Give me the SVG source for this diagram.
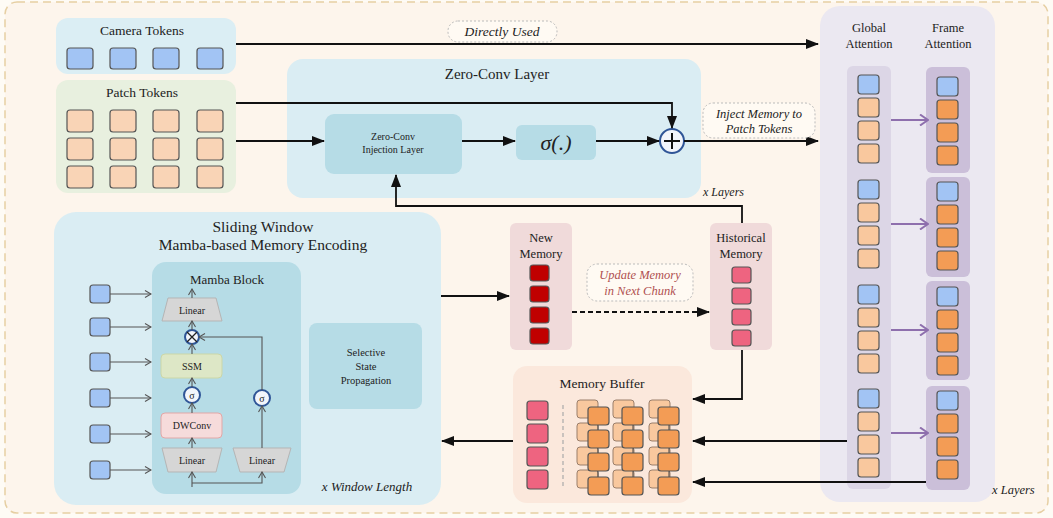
<svg xmlns="http://www.w3.org/2000/svg" width="1053" height="518" viewBox="0 0 1053 518">
<defs>
<style>
text{font-family:"Liberation Serif","Times New Roman",serif;fill:#222;text-anchor:middle}
.it{font-style:italic}
.tk{stroke:#555;stroke-width:1.2}
.blue{fill:#a2c4f4}
.peach{fill:#f9d4b6}
.gpeach{fill:#f9c89e}
.orange{fill:#f39c55}
.dred{fill:#c00000}
.pink{fill:#ee6480}
.ln{fill:none;stroke:#111;stroke-width:1.8}
.gl{fill:none;stroke:#555;stroke-width:1.1}
.pl{fill:none;stroke:#8e6fad;stroke-width:2}
.lbl{fill:#fffaf3;stroke:#bbb;stroke-width:1;stroke-dasharray:2,2}
.trap{fill:#d6d6d6;stroke:#b5b5b5;stroke-width:1}
.circ{fill:#f2f5fb;stroke:#2f5597;stroke-width:2}
</style>
<marker id="ah" markerUnits="userSpaceOnUse" markerWidth="13" markerHeight="10" viewBox="0 0 13 10" refX="12" refY="5" orient="auto"><path d="M0,0 L13,5 L0,10 z" fill="#111"/></marker>
<marker id="oh" markerUnits="userSpaceOnUse" markerWidth="8" markerHeight="8" viewBox="0 0 8 8" refX="7" refY="4" orient="auto"><path d="M1,0.5 L7,4 L1,7.5" fill="none" stroke="#555" stroke-width="1.1"/></marker>
<marker id="ph" markerUnits="userSpaceOnUse" markerWidth="10" markerHeight="12" viewBox="0 0 10 12" refX="9" refY="6" orient="auto"><path d="M1,0.5 L9,6 L1,11.5" fill="none" stroke="#8e6fad" stroke-width="2"/></marker>
</defs>

<rect x="0" y="0" width="1053" height="518" fill="#fefbf5"/>
<rect id="frame" x="5" y="2" width="1043" height="511" rx="12" fill="#fdf5ec" stroke="#e6cfa3" stroke-width="1.5" stroke-dasharray="8,5"/>

<g id="camera-tokens">
<rect x="56" y="18" width="180" height="56" rx="12" fill="#dbeef4"/>
<text x="142" y="35" font-size="13.5">Camera Tokens</text>
<rect class="tk blue" x="67" y="48" width="26" height="21" rx="3"/>
<rect class="tk blue" x="110" y="48" width="26" height="21" rx="3"/>
<rect class="tk blue" x="153" y="48" width="26" height="21" rx="3"/>
<rect class="tk blue" x="197" y="48" width="26" height="21" rx="3"/>
</g>

<g id="patch-tokens">
<rect x="56" y="80" width="180" height="113" rx="12" fill="#e8f0df"/>
<text x="142" y="97" font-size="13.5">Patch Tokens</text>
<rect class="tk peach" x="67" y="110" width="26" height="22" rx="3"/>
<rect class="tk peach" x="110" y="110" width="26" height="22" rx="3"/>
<rect class="tk peach" x="153" y="110" width="26" height="22" rx="3"/>
<rect class="tk peach" x="197" y="110" width="26" height="22" rx="3"/>
<rect class="tk peach" x="67" y="138" width="26" height="22" rx="3"/>
<rect class="tk peach" x="110" y="138" width="26" height="22" rx="3"/>
<rect class="tk peach" x="153" y="138" width="26" height="22" rx="3"/>
<rect class="tk peach" x="197" y="138" width="26" height="22" rx="3"/>
<rect class="tk peach" x="67" y="166" width="26" height="22" rx="3"/>
<rect class="tk peach" x="110" y="166" width="26" height="22" rx="3"/>
<rect class="tk peach" x="153" y="166" width="26" height="22" rx="3"/>
<rect class="tk peach" x="197" y="166" width="26" height="22" rx="3"/>
</g>

<g id="zero-conv-layer">
<rect x="287" y="59" width="414" height="139" rx="16" fill="#daedf3"/>
<text x="497" y="79" font-size="15">Zero-Conv Layer</text>
<text x="703" y="196" font-size="12" class="it" style="text-anchor:start">x Layers</text>
</g>
<g id="zero-conv-injection">
<rect x="325" y="114" width="137" height="60" rx="9" fill="#b6dce6"/>
<text x="393" y="140" font-size="10">Zero-Conv</text>
<text x="393" y="153" font-size="10">Injection Layer</text>
</g>
<g id="sigma">
<rect x="516" y="125" width="80" height="35" rx="6" fill="#b6dce6"/>
<text x="556" y="150" font-size="22" class="it">σ(.)</text>
</g>
<g id="add">
<circle class="circ" cx="672" cy="141" r="12"/>
<path d="M672,133 V149 M664,141 H680" stroke="#111" stroke-width="2"/>
</g>

<g id="attention">
<rect x="820" y="6" width="175" height="496" rx="20" fill="#ebe8f1"/>
<text x="869" y="32" font-size="12.5">Global</text>
<text x="869" y="48" font-size="12.5">Attention</text>
<text x="948" y="32" font-size="12.5">Frame</text>
<text x="948" y="48" font-size="12.5">Attention</text>
<rect x="847" y="66" width="44" height="423" rx="6" fill="#dcd6e6"/>
<rect x="926" y="67" width="44" height="106" rx="6" fill="#cbbfd9"/>
<rect x="926" y="177" width="44" height="100" rx="6" fill="#cbbfd9"/>
<rect x="926" y="281" width="44" height="99" rx="6" fill="#cbbfd9"/>
<rect x="926" y="386" width="44" height="104" rx="6" fill="#cbbfd9"/>
<text x="992" y="494" font-size="12.5" class="it" style="text-anchor:start">x Layers</text>
<rect class="tk blue" x="858" y="75" width="21" height="19" rx="3"/>
<rect class="tk gpeach" x="858" y="98" width="21" height="19" rx="3"/>
<rect class="tk gpeach" x="858" y="121" width="21" height="19" rx="3"/>
<rect class="tk gpeach" x="858" y="144" width="21" height="19" rx="3"/>
<rect class="tk blue" x="858" y="180" width="21" height="19" rx="3"/>
<rect class="tk gpeach" x="858" y="203" width="21" height="19" rx="3"/>
<rect class="tk gpeach" x="858" y="226" width="21" height="19" rx="3"/>
<rect class="tk gpeach" x="858" y="249" width="21" height="19" rx="3"/>
<rect class="tk blue" x="858" y="285" width="21" height="19" rx="3"/>
<rect class="tk gpeach" x="858" y="308" width="21" height="19" rx="3"/>
<rect class="tk gpeach" x="858" y="331" width="21" height="19" rx="3"/>
<rect class="tk gpeach" x="858" y="354" width="21" height="19" rx="3"/>
<rect class="tk blue" x="858" y="389" width="21" height="19" rx="3"/>
<rect class="tk gpeach" x="858" y="412" width="21" height="19" rx="3"/>
<rect class="tk gpeach" x="858" y="435" width="21" height="19" rx="3"/>
<rect class="tk gpeach" x="858" y="458" width="21" height="19" rx="3"/>
<rect class="tk blue" x="937" y="77" width="21" height="19" rx="3"/>
<rect class="tk orange" x="937" y="100" width="21" height="19" rx="3"/>
<rect class="tk orange" x="937" y="123" width="21" height="19" rx="3"/>
<rect class="tk orange" x="937" y="146" width="21" height="19" rx="3"/>
<rect class="tk blue" x="937" y="182" width="21" height="19" rx="3"/>
<rect class="tk orange" x="937" y="205" width="21" height="19" rx="3"/>
<rect class="tk orange" x="937" y="228" width="21" height="19" rx="3"/>
<rect class="tk orange" x="937" y="251" width="21" height="19" rx="3"/>
<rect class="tk blue" x="937" y="287" width="21" height="19" rx="3"/>
<rect class="tk orange" x="937" y="310" width="21" height="19" rx="3"/>
<rect class="tk orange" x="937" y="333" width="21" height="19" rx="3"/>
<rect class="tk orange" x="937" y="356" width="21" height="19" rx="3"/>
<rect class="tk blue" x="937" y="391" width="21" height="19" rx="3"/>
<rect class="tk orange" x="937" y="414" width="21" height="19" rx="3"/>
<rect class="tk orange" x="937" y="437" width="21" height="19" rx="3"/>
<rect class="tk orange" x="937" y="460" width="21" height="19" rx="3"/>
</g>

<g id="sliding-window">
<rect x="54" y="212" width="387" height="293" rx="22" fill="#daedf3"/>
<text x="263" y="232" font-size="15.5">Sliding Window</text>
<text x="263" y="250" font-size="15.5">Mamba-based Memory Encoding</text>
<text x="367" y="491" font-size="13" class="it">x Window Length</text>
<rect class="tk blue" x="90" y="285" width="20" height="18" rx="3"/>
<rect class="tk blue" x="90" y="318" width="20" height="18" rx="3"/>
<rect class="tk blue" x="90" y="353" width="20" height="18" rx="3"/>
<rect class="tk blue" x="90" y="389" width="20" height="18" rx="3"/>
<rect class="tk blue" x="90" y="425" width="20" height="18" rx="3"/>
<rect class="tk blue" x="90" y="461" width="20" height="18" rx="3"/>
</g>

<g id="mamba-block">
<rect x="152" y="262" width="149" height="232" rx="14" fill="#b6dce6"/>
<text x="227" y="284" font-size="13">Mamba Block</text>
<polygon class="trap" points="168,298 216,298 222,321 162,321"/>
<text x="192" y="314" font-size="10">Linear</text>
<circle class="circ" cx="192" cy="337" r="7" stroke-width="1.6"/>
<path d="M187,332 L197,342 M197,332 L187,342" stroke="#222" stroke-width="1.3"/>
<rect x="161" y="354" width="61" height="24" rx="4" fill="#dde7c6" stroke="#cbd7a8"/>
<text x="192" y="370" font-size="10">SSM</text>
<circle class="circ" cx="192" cy="395" r="8" stroke-width="1.6"/>
<text x="192" y="399" font-size="10">σ</text>
<rect x="161" y="413" width="61" height="25" rx="4" fill="#f6dbdb" stroke="#e2a7a7"/>
<text x="192" y="429" font-size="10">DWConv</text>
<polygon class="trap" points="162,448 222,448 216,472 168,472"/>
<text x="192" y="464" font-size="10">Linear</text>
<polygon class="trap" points="233,448 291,448 284,472 240,472"/>
<text x="262" y="464" font-size="10">Linear</text>
<circle class="circ" cx="262" cy="398" r="8" stroke-width="1.6"/>
<text x="262" y="402" font-size="10">σ</text>
<path class="gl" marker-end="url(#oh)" d="M192,298 V289"/>
<path class="gl" marker-end="url(#oh)" d="M192,330 V321"/>
<path class="gl" marker-end="url(#oh)" d="M192,354 V344"/>
<path class="gl" marker-end="url(#oh)" d="M192,387 V378"/>
<path class="gl" marker-end="url(#oh)" d="M192,413 V403"/>
<path class="gl" marker-end="url(#oh)" d="M192,448 V438"/>
<path class="gl" marker-end="url(#oh)" d="M262,448 V406"/>
<path class="gl" marker-end="url(#oh)" d="M262,390 V337 H199"/>
<path class="gl" marker-end="url(#oh)" d="M192,487 V472"/>
<path class="gl" marker-end="url(#oh)" d="M192,483 H262 V472"/>
</g>

<g id="selective-state">
<rect x="309" y="323" width="113" height="86" rx="8" fill="#b6dce6"/>
<text x="366" y="356" font-size="10.5">Selective</text>
<text x="366" y="370" font-size="10.5">State</text>
<text x="366" y="384" font-size="10.5">Propagation</text>
</g>

<g id="new-memory">
<rect x="510" y="223" width="62" height="127" rx="6" fill="#f0dada"/>
<text x="541" y="242" font-size="12.5">New</text>
<text x="541" y="258" font-size="12.5">Memory</text>
<rect class="tk dred" x="530" y="265" width="19" height="16" rx="3"/>
<rect class="tk dred" x="530" y="286" width="19" height="16" rx="3"/>
<rect class="tk dred" x="530" y="307" width="19" height="16" rx="3"/>
<rect class="tk dred" x="530" y="328" width="19" height="16" rx="3"/>
</g>

<g id="historical-memory">
<rect x="710" y="223" width="62" height="127" rx="6" fill="#f0dada"/>
<text x="741" y="242" font-size="12.5">Historical</text>
<text x="741" y="258" font-size="12.5">Memory</text>
<rect class="tk pink" x="732" y="267" width="19" height="16" rx="3"/>
<rect class="tk pink" x="732" y="288" width="19" height="16" rx="3"/>
<rect class="tk pink" x="732" y="309" width="19" height="16" rx="3"/>
<rect class="tk pink" x="732" y="330" width="19" height="16" rx="3"/>
</g>

<g id="memory-buffer">
<rect x="513" y="366" width="179" height="137" rx="14" fill="#fbe8dc"/>
<text x="602" y="388" font-size="13.5">Memory Buffer</text>
<rect class="tk pink" x="527" y="401" width="21" height="19" rx="3"/>
<rect class="tk pink" x="527" y="424" width="21" height="19" rx="3"/>
<rect class="tk pink" x="527" y="447" width="21" height="19" rx="3"/>
<rect class="tk pink" x="527" y="470" width="21" height="19" rx="3"/>
<path d="M563,405 V488" stroke="#aaa" stroke-width="1.2" stroke-dasharray="4,3"/>
<g fill="#f9c89e" stroke="#9a7e6a" stroke-width="1">
<rect x="577" y="400" width="21" height="18" rx="3"/><rect x="577" y="423" width="21" height="18" rx="3"/><rect x="577" y="447" width="21" height="18" rx="3"/><rect x="577" y="470" width="21" height="18" rx="3"/>
<rect x="613" y="400" width="21" height="18" rx="3"/><rect x="613" y="423" width="21" height="18" rx="3"/><rect x="613" y="447" width="21" height="18" rx="3"/><rect x="613" y="470" width="21" height="18" rx="3"/>
<rect x="649" y="400" width="21" height="18" rx="3"/><rect x="649" y="423" width="21" height="18" rx="3"/><rect x="649" y="447" width="21" height="18" rx="3"/><rect x="649" y="470" width="21" height="18" rx="3"/>
</g>
<path d="M598,418 V494 M633,418 V494 M669,418 V494" stroke="#444" stroke-width="1"/>
<rect class="tk orange" x="588" y="407" width="21" height="18" rx="3"/><rect class="tk orange" x="588" y="430" width="21" height="18" rx="3"/><rect class="tk orange" x="588" y="453" width="21" height="18" rx="3"/><rect class="tk orange" x="588" y="477" width="21" height="18" rx="3"/>
<rect class="tk orange" x="622" y="407" width="21" height="18" rx="3"/><rect class="tk orange" x="622" y="430" width="21" height="18" rx="3"/><rect class="tk orange" x="622" y="453" width="21" height="18" rx="3"/><rect class="tk orange" x="622" y="477" width="21" height="18" rx="3"/>
<rect class="tk orange" x="658" y="407" width="21" height="18" rx="3"/><rect class="tk orange" x="658" y="430" width="21" height="18" rx="3"/><rect class="tk orange" x="658" y="453" width="21" height="18" rx="3"/><rect class="tk orange" x="658" y="477" width="21" height="18" rx="3"/>
</g>

<g id="connectors">
<path class="ln" marker-end="url(#ah)" d="M236,44 H818"/>
<path class="ln" marker-end="url(#ah)" d="M236,103 H672 V128"/>
<path class="ln" marker-end="url(#ah)" d="M236,141 H324"/>
<path class="ln" marker-end="url(#ah)" d="M462,141 H515"/>
<path class="ln" marker-end="url(#ah)" d="M596,141 H659"/>
<path class="ln" marker-end="url(#ah)" d="M684,141 H818"/>
<path class="ln" marker-end="url(#ah)" d="M742,223 V206 H396 V175"/>
<path class="ln" marker-end="url(#ah)" d="M441,296 H509"/>
<path class="ln" marker-end="url(#ah)" d="M572,312 H709" stroke-dasharray="5,3"/>
<path class="ln" marker-end="url(#ah)" d="M742,350 V399 H693"/>
<path class="ln" marker-end="url(#ah)" d="M847,441 H693"/>
<path class="ln" marker-end="url(#ah)" d="M926,482 H693"/>
<path class="ln" marker-end="url(#ah)" d="M513,441 H442"/>
<path class="gl" marker-end="url(#oh)" d="M110,294 H151"/>
<path class="gl" marker-end="url(#oh)" d="M110,327 H151"/>
<path class="gl" marker-end="url(#oh)" d="M110,362 H151"/>
<path class="gl" marker-end="url(#oh)" d="M110,398 H151"/>
<path class="gl" marker-end="url(#oh)" d="M110,434 H151"/>
<path class="gl" marker-end="url(#oh)" d="M110,470 H151"/>
<path class="pl" marker-end="url(#ph)" d="M891,120 H928"/>
<path class="pl" marker-end="url(#ph)" d="M891,224 H928"/>
<path class="pl" marker-end="url(#ph)" d="M891,330 H928"/>
<path class="pl" marker-end="url(#ph)" d="M891,433 H928"/>
</g>

<g id="label-directly-used">
<rect class="lbl" x="448" y="21" width="109" height="21" rx="10"/>
<text x="502" y="36" font-size="13.5" class="it">Directly Used</text>
</g>
<g id="label-inject">
<rect class="lbl" x="703" y="103" width="112" height="35" rx="10"/>
<text x="759" y="118" font-size="12.5" class="it">Inject Memory to</text>
<text x="759" y="133" font-size="12.5" class="it">Patch Tokens</text>
</g>
<g id="label-update">
<rect class="lbl" x="587" y="264" width="106" height="37" rx="10" stroke="#e0b0b0"/>
<text x="640" y="279" font-size="12.5" class="it" style="fill:#b05050">Update Memory</text>
<text x="640" y="295" font-size="12.5" class="it" style="fill:#b05050">in Next Chunk</text>
</g>
</svg>
